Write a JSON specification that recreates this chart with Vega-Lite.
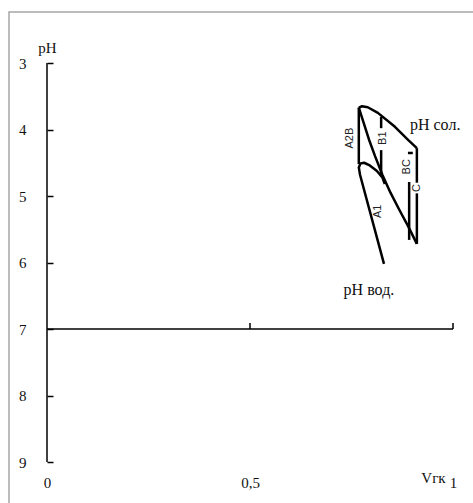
{
  "$schema": "https://vega.github.io/schema/vega-lite/v6.json",
  "width": 464,
  "height": 491,
  "autosize": {"type": "none"},
  "padding": {"left": 9, "top": 12, "right": 0, "bottom": 0},
  "background": "white",
  "config": {"view": {"stroke": null}, "font": "Liberation Serif"},
  "datasets": {
    "frame": [
      {"x": -0.0936, "x2": 1.2, "y": 2.23308, "y2": 10.5}
    ],
    "axes": [
      {"part": "yline", "x": 0, "x2": 0, "y": 3, "y2": 9},
      {"part": "xline", "x": 0, "x2": 1, "y": 7, "y2": 7},
      {"part": "tick05", "x": 0.5, "x2": 0.5, "y": 7, "y2": 6.91},
      {"part": "tick1", "x": 1, "x2": 1, "y": 7, "y2": 6.91}
    ],
    "curves": [
      {"seg": "sol", "o": 1, "x": 0.768, "y": 3.67},
      {"seg": "sol", "o": 2, "x": 0.776, "y": 3.65},
      {"seg": "sol", "o": 3, "x": 0.79, "y": 3.665},
      {"seg": "sol", "o": 4, "x": 0.815, "y": 3.75},
      {"seg": "sol", "o": 5, "x": 0.857, "y": 3.96},
      {"seg": "sol", "o": 6, "x": 0.89, "y": 4.16},
      {"seg": "sol", "o": 7, "x": 0.911, "y": 4.28},
      {"seg": "right1", "o": 1, "x": 0.911, "y": 4.28},
      {"seg": "right1", "o": 2, "x": 0.911, "y": 4.8},
      {"seg": "right2", "o": 1, "x": 0.911, "y": 4.96},
      {"seg": "right2", "o": 2, "x": 0.911, "y": 5.72},
      {"seg": "diag", "o": 1, "x": 0.768, "y": 3.67},
      {"seg": "diag", "o": 2, "x": 0.78, "y": 3.9},
      {"seg": "diag", "o": 3, "x": 0.793, "y": 4.15},
      {"seg": "diag", "o": 4, "x": 0.808, "y": 4.4},
      {"seg": "diag", "o": 5, "x": 0.826, "y": 4.68},
      {"seg": "diag", "o": 6, "x": 0.846, "y": 4.95},
      {"seg": "diag", "o": 7, "x": 0.868, "y": 5.21},
      {"seg": "diag", "o": 8, "x": 0.89, "y": 5.46},
      {"seg": "diag", "o": 9, "x": 0.911, "y": 5.72},
      {"seg": "a2b", "o": 1, "x": 0.768, "y": 3.67},
      {"seg": "a2b", "o": 2, "x": 0.768, "y": 4.52},
      {"seg": "vod", "o": 1, "x": 0.83, "y": 6.02},
      {"seg": "vod", "o": 2, "x": 0.771, "y": 4.68},
      {"seg": "vod", "o": 3, "x": 0.768, "y": 4.57},
      {"seg": "vod", "o": 4, "x": 0.772, "y": 4.51},
      {"seg": "vod", "o": 5, "x": 0.781, "y": 4.5},
      {"seg": "vod", "o": 6, "x": 0.795, "y": 4.54},
      {"seg": "vod", "o": 7, "x": 0.812, "y": 4.62},
      {"seg": "vod", "o": 8, "x": 0.826, "y": 4.72},
      {"seg": "vod", "o": 9, "x": 0.832, "y": 4.82},
      {"seg": "b1top", "o": 1, "x": 0.823, "y": 3.81},
      {"seg": "b1top", "o": 2, "x": 0.823, "y": 3.98},
      {"seg": "b1bot", "o": 1, "x": 0.823, "y": 4.31},
      {"seg": "b1bot", "o": 2, "x": 0.823, "y": 4.7},
      {"seg": "bcdash", "o": 1, "x": 0.889, "y": 4.353},
      {"seg": "bcdash", "o": 2, "x": 0.901, "y": 4.353},
      {"seg": "bcline", "o": 1, "x": 0.892, "y": 4.79},
      {"seg": "bcline", "o": 2, "x": 0.892, "y": 5.66}
    ],
    "rotlabels": [
      {"label": "A2B", "x": 0.746, "y": 4.13},
      {"label": "B1", "x": 0.828, "y": 4.13},
      {"label": "BC", "x": 0.887, "y": 4.56},
      {"label": "C", "x": 0.911, "y": 4.88},
      {"label": "A1", "x": 0.815, "y": 5.23}
    ],
    "namesLeft": [
      {"label": "pH сол.", "x": 0.894, "y": 3.93}
    ],
    "namesCenter": [
      {"label": "pH вод.", "x": 0.793, "y": 6.41}
    ]
  },
  "layer": [
    {
      "data": {"name": "axes"},
      "mark": {"type": "rule", "color": "black", "strokeWidth": 1.5},
      "encoding": {
        "x": {
          "field": "x", "type": "quantitative",
          "scale": {"domain": [-0.0936, 1.04926], "nice": false, "zero": false},
          "axis": {
            "values": [0, 0.5, 1], "domain": false, "ticks": false, "grid": false,
            "labelExpr": "replace(format(datum.value, '~g'), '.', ',')",
            "labelFont": "Liberation Serif", "labelFontSize": 15, "labelColor": "#111",
            "labelPadding": 0, "labelBaseline": "middle", "offset": -21,
            "labelFlush": false, "labelOverlap": false,
            "title": "Vгк", "titleFont": "Liberation Serif", "titleFontSize": 15,
            "titleFontWeight": "normal", "titleColor": "#111",
            "titleX": 424, "titleY": -5, "titleAlign": "center", "titleBaseline": "middle",
            "encode": {"labels": {"update": {"dx": {"signal": "datum.value === 1 ? 11 : datum.value === 0.5 ? -5 : -2"}}}}
          }
        },
        "x2": {"field": "x2"},
        "y": {
          "field": "y", "type": "quantitative",
          "scale": {"domain": [2.23308, 9.61654], "reverse": true, "nice": false, "zero": false},
          "axis": {
            "values": [3, 4, 5, 6, 7, 8, 9], "format": "d", "domain": false, "grid": false,
            "offset": -38, "tickSize": -6, "tickWidth": 1.5, "tickColor": "black",
            "labelPadding": 27, "labelFont": "Liberation Serif", "labelFontSize": 15,
            "labelColor": "#111", "labelFlush": false, "labelOverlap": false,
            "title": "pH", "titleAngle": 0, "titleX": 0, "titleY": 40,
            "titleAlign": "center", "titleBaseline": "alphabetic",
            "titleFont": "Liberation Serif", "titleFontSize": 15,
            "titleFontWeight": "normal", "titleColor": "#111"
          }
        },
        "y2": {"field": "y2"}
      }
    },
    {
      "data": {"name": "frame"},
      "mark": {"type": "rect", "fill": null, "fillOpacity": 0, "stroke": "#a6a6a6", "strokeWidth": 1.5},
      "encoding": {
        "x": {"field": "x", "type": "quantitative"},
        "x2": {"field": "x2"},
        "y": {"field": "y", "type": "quantitative"},
        "y2": {"field": "y2"}
      }
    },
    {
      "data": {"name": "curves"},
      "mark": {"type": "line", "color": "black", "strokeWidth": 2.5, "strokeJoin": "round"},
      "encoding": {
        "x": {"field": "x", "type": "quantitative"},
        "y": {"field": "y", "type": "quantitative"},
        "detail": {"field": "seg"},
        "order": {"field": "o"}
      }
    },
    {
      "data": {"name": "rotlabels"},
      "mark": {"type": "text", "angle": 270, "font": "Liberation Sans", "fontSize": 11, "color": "#222", "align": "center", "baseline": "middle"},
      "encoding": {
        "x": {"field": "x", "type": "quantitative"},
        "y": {"field": "y", "type": "quantitative"},
        "text": {"field": "label"}
      }
    },
    {
      "data": {"name": "namesLeft"},
      "mark": {"type": "text", "font": "Liberation Serif", "fontSize": 16, "color": "#111", "align": "left", "baseline": "middle"},
      "encoding": {
        "x": {"field": "x", "type": "quantitative"},
        "y": {"field": "y", "type": "quantitative"},
        "text": {"field": "label"}
      }
    },
    {
      "data": {"name": "namesCenter"},
      "mark": {"type": "text", "font": "Liberation Serif", "fontSize": 16, "color": "#111", "align": "center", "baseline": "middle"},
      "encoding": {
        "x": {"field": "x", "type": "quantitative"},
        "y": {"field": "y", "type": "quantitative"},
        "text": {"field": "label"}
      }
    }
  ]
}
